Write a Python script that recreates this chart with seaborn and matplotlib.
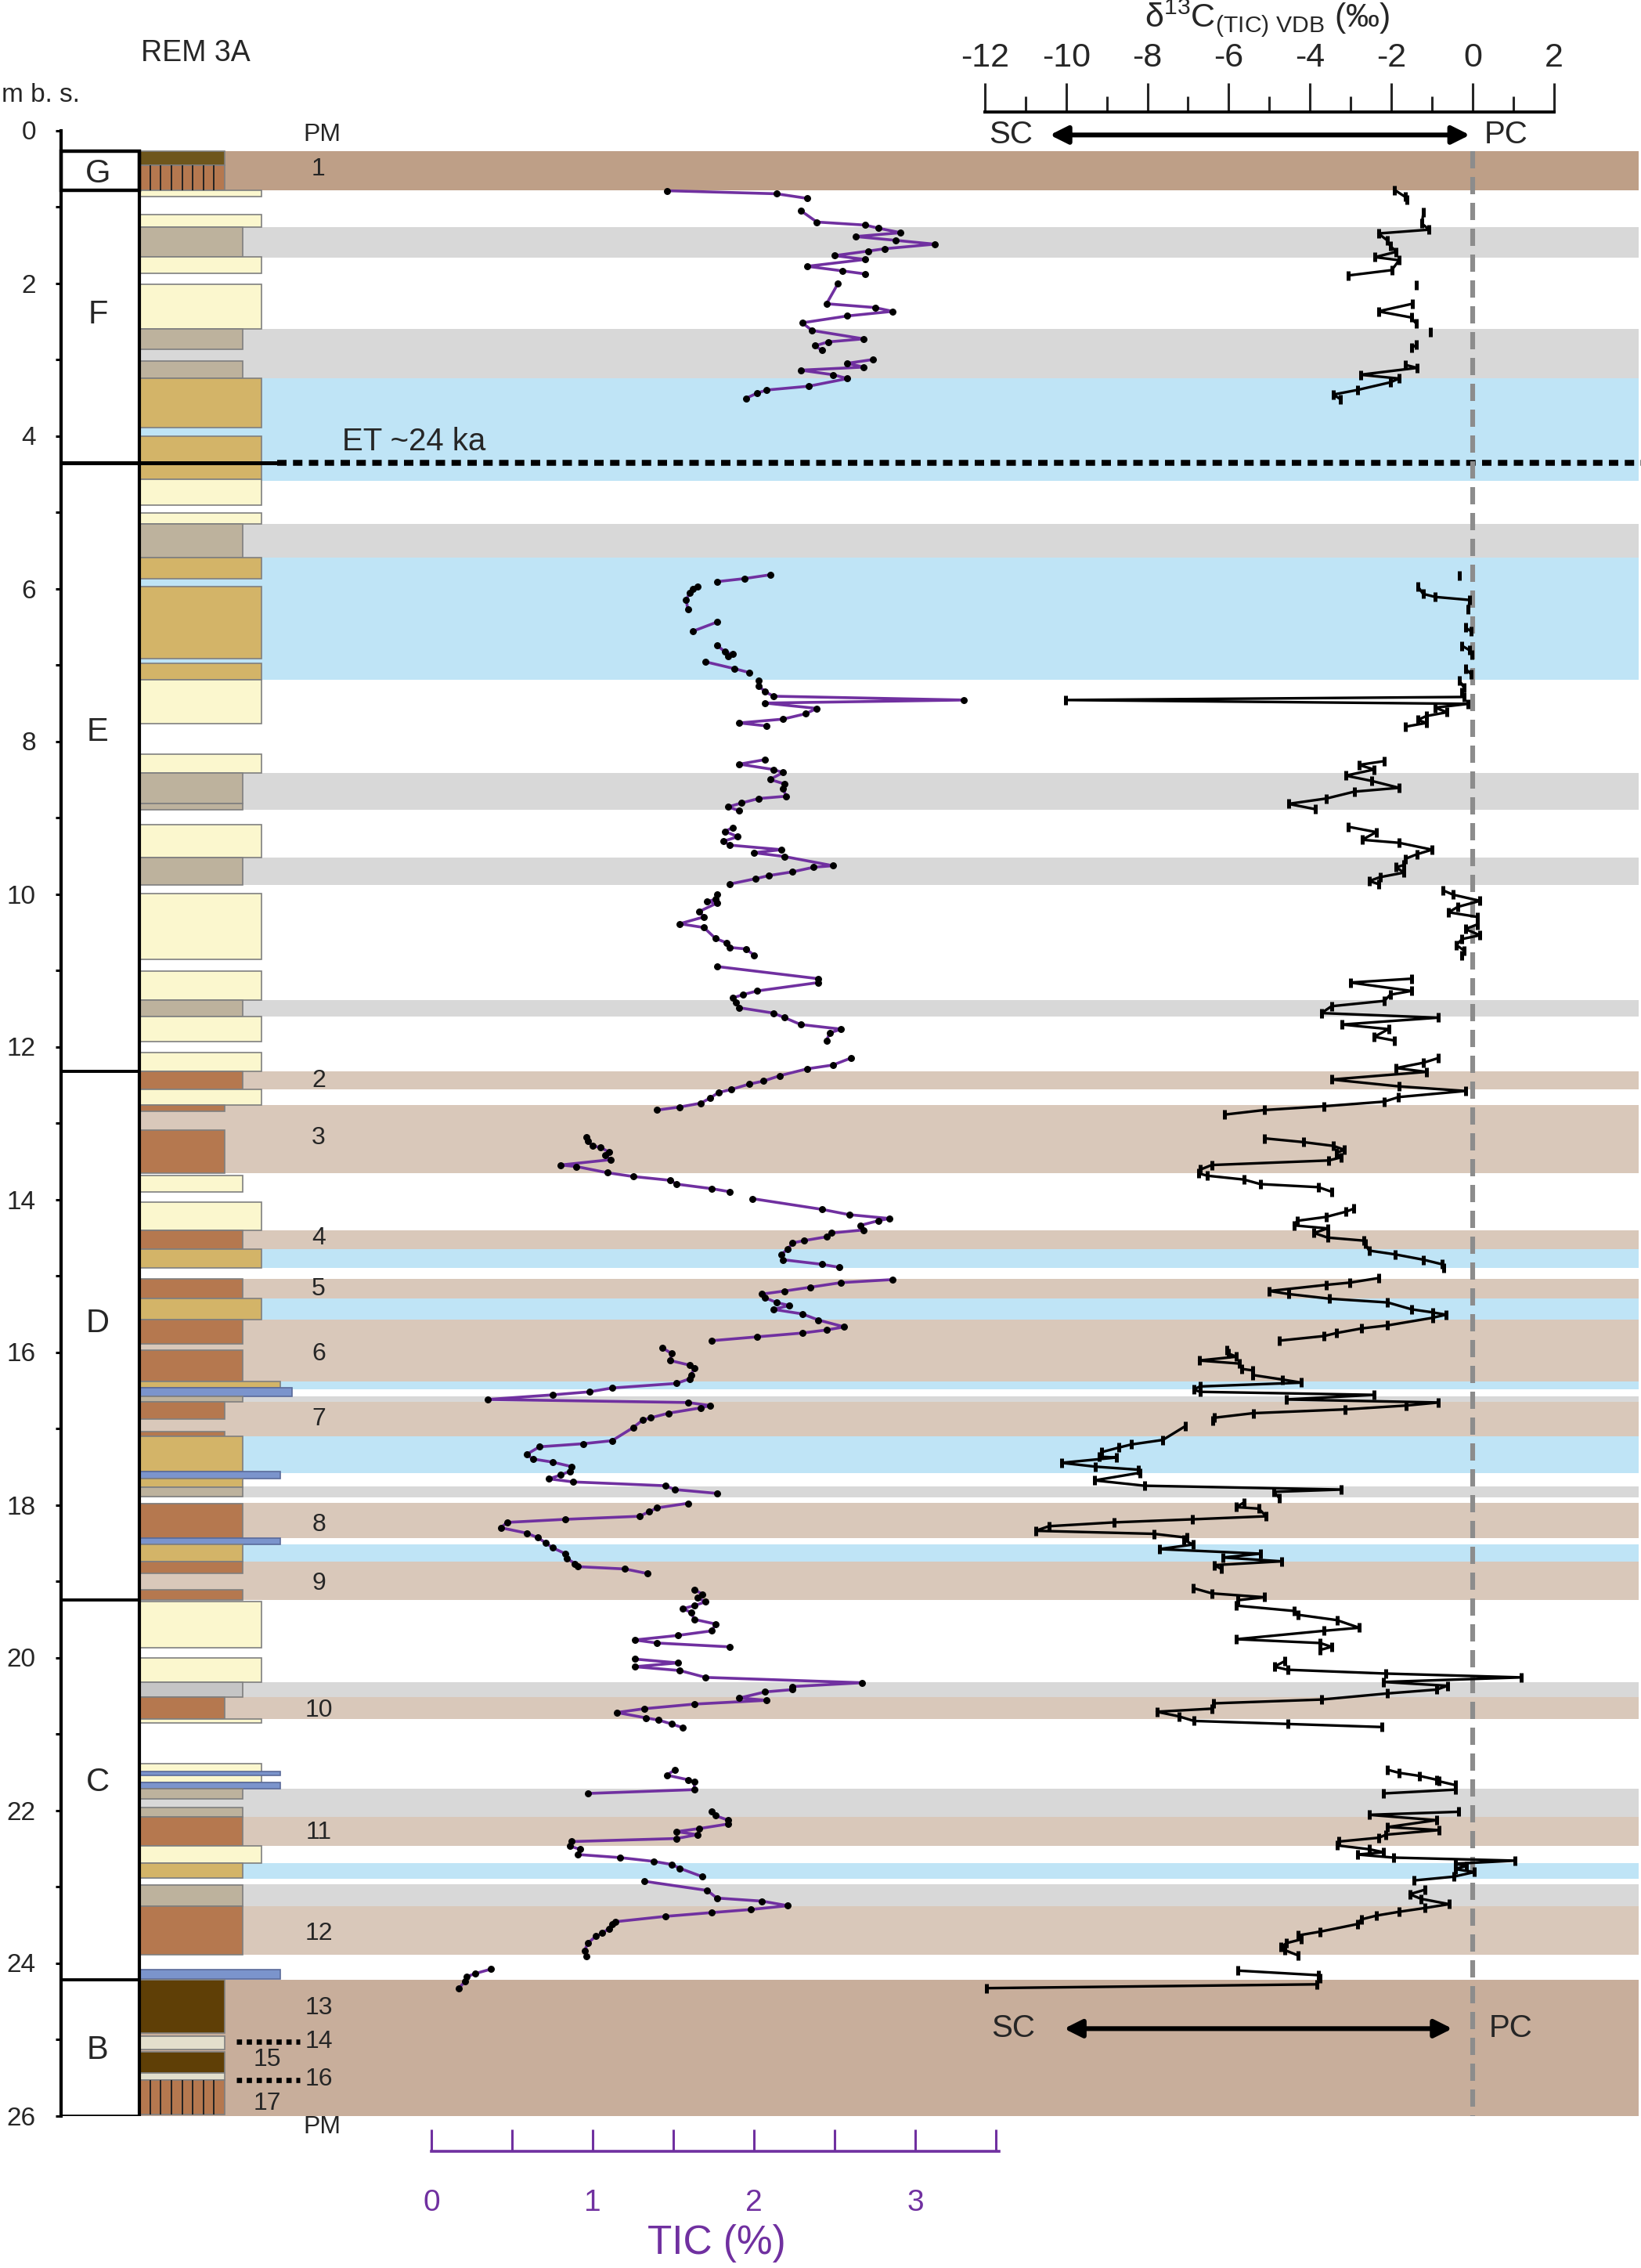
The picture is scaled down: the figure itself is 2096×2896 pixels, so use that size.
import numpy as np
import pandas as pd
import matplotlib
matplotlib.use('Agg')
import matplotlib.pyplot as plt
from matplotlib.patches import Rectangle
import seaborn as sns

# ---------------- data ----------------
# TIC (%) profile, one inner list per connected run of samples
tic_depth = [
    [0.79, 0.83, 0.89],
    [1.05, 1.20, 1.24, 1.28, 1.34, 1.39, 1.44, 1.49, 1.55, 1.58, 1.64, 1.69, 1.78, 1.84, 1.88],
    [2.01, 2.27, 2.32, 2.37, 2.43, 2.52, 2.62, 2.73, 2.77, 2.82, 2.88],
    [3.00, 3.05, 3.10, 3.14, 3.20, 3.25, 3.35, 3.40, 3.44, 3.51],
    [5.82, 5.87, 5.91],
    [5.97, 6.01, 6.06, 6.15, 6.27],
    [6.44, 6.56],
    [6.74, 6.83, 6.86, 6.89],
    [6.96, 7.05, 7.10],
    [7.20, 7.28, 7.35, 7.41, 7.46, 7.50, 7.57, 7.64, 7.71, 7.76, 7.80],
    [8.24, 8.30, 8.37, 8.41, 8.50, 8.56, 8.62, 8.72, 8.75, 8.81, 8.86, 8.91],
    [9.13, 9.18, 9.25, 9.31, 9.36, 9.42, 9.46, 9.51, 9.63, 9.65, 9.71, 9.76, 9.80, 9.87],
    [10.01, 10.07, 10.10, 10.12, 10.23, 10.30, 10.39, 10.44, 10.58, 10.64, 10.70, 10.72, 10.80],
    [10.95, 11.11, 11.16, 11.27, 11.32, 11.36, 11.42, 11.49, 11.56, 11.62, 11.71, 11.77, 11.82, 11.92],
    [12.15, 12.24, 12.29, 12.38, 12.45, 12.49, 12.56, 12.60, 12.67, 12.74, 12.79, 12.83],
    [13.18, 13.24, 13.30, 13.32, 13.38, 13.42, 13.48, 13.55, 13.57, 13.65, 13.70, 13.75, 13.80, 13.86, 13.90],
    [13.99, 14.13, 14.20, 14.25, 14.28, 14.34, 14.40, 14.44, 14.49, 14.54, 14.57, 14.65, 14.72, 14.79, 14.85, 14.89],
    [15.05, 15.09, 15.15, 15.20, 15.24, 15.29, 15.35, 15.39, 15.44, 15.50, 15.58, 15.67, 15.71, 15.75, 15.80, 15.85],
    [15.94, 16.02, 16.11, 16.17, 16.21, 16.30, 16.35, 16.41, 16.47, 16.52, 16.56, 16.62, 16.66, 16.70, 16.73,
     16.80, 16.86, 16.89, 16.99, 17.16, 17.20, 17.24, 17.34, 17.40, 17.44, 17.50, 17.56, 17.61, 17.66, 17.70,
     17.75, 17.80, 17.85],
    [17.98, 18.04, 18.09, 18.15, 18.19, 18.23, 18.30, 18.37, 18.43, 18.50, 18.56, 18.64, 18.70, 18.77, 18.81, 18.84, 18.90],
    [19.11, 19.17, 19.22, 19.27, 19.32, 19.36, 19.41, 19.50, 19.56, 19.65, 19.71, 19.77, 19.81, 19.86],
    [20.02, 20.07, 20.12, 20.17, 20.26, 20.33, 20.38, 20.42, 20.45, 20.53, 20.56, 20.61, 20.67, 20.72, 20.79, 20.82, 20.87, 20.92],
    [21.47, 21.54, 21.60, 21.63, 21.73, 21.78],
    [22.02, 22.07, 22.13, 22.18, 22.24, 22.28, 22.32, 22.37, 22.41, 22.47, 22.51, 22.58, 22.62, 22.67, 22.71, 22.76, 22.87],
    [22.93, 23.05, 23.15, 23.19, 23.25, 23.30, 23.34, 23.39, 23.46, 23.49, 23.55, 23.61, 23.65, 23.74, 23.84, 23.91],
    [24.08, 24.14, 24.18, 24.24, 24.33],
]
tic_value = [
    [1.46, 2.14, 2.33],
    [2.29, 2.39, 2.69, 2.77, 2.91, 2.63, 2.88, 3.12, 2.81, 2.71, 2.50, 2.69, 2.33, 2.55, 2.69],
    [2.52, 2.45, 2.75, 2.86, 2.58, 2.30, 2.36, 2.68, 2.46, 2.38, 2.42],
    [2.74, 2.58, 2.68, 2.29, 2.49, 2.58, 2.34, 2.08, 2.02, 1.95],
    [2.10, 1.94, 1.77],
    [1.65, 1.62, 1.60, 1.58, 1.59],
    [1.77, 1.62],
    [1.77, 1.82, 1.87, 1.84],
    [1.70, 1.88, 1.97],
    [2.03, 2.03, 2.07, 2.12, 3.30, 2.07, 2.39, 2.32, 2.18, 1.91, 2.08],
    [2.07, 1.91, 2.12, 2.18, 2.10, 2.19, 2.18, 2.20, 2.03, 1.92, 1.84, 1.91],
    [1.87, 1.82, 1.90, 1.81, 1.85, 2.17, 2.00, 2.19, 2.49, 2.37, 2.24, 2.09, 2.01, 1.85],
    [1.77, 1.76, 1.71, 1.77, 1.66, 1.69, 1.54, 1.69, 1.76, 1.83, 1.85, 1.95, 2.00],
    [1.77, 2.40, 2.40, 2.02, 1.93, 1.87, 1.89, 1.91, 2.12, 2.19, 2.29, 2.54, 2.47, 2.45],
    [2.60, 2.49, 2.33, 2.16, 2.06, 1.97, 1.86, 1.78, 1.73, 1.67, 1.54, 1.40],
    [0.96, 0.97, 1.00, 1.05, 1.10, 1.08, 1.11, 0.80, 0.90, 1.09, 1.25, 1.48, 1.52, 1.74, 1.85],
    [1.99, 2.42, 2.59, 2.84, 2.77, 2.66, 2.68, 2.48, 2.45, 2.31, 2.24, 2.21, 2.17, 2.18, 2.42, 2.53],
    [2.86, 2.54, 2.35, 2.19, 2.05, 2.07, 2.14, 2.22, 2.12, 2.30, 2.40, 2.56, 2.45, 2.30, 2.02, 1.74],
    [1.43, 1.49, 1.48, 1.60, 1.63, 1.61, 1.60, 1.52, 1.12, 0.98, 0.75, 0.35, 1.59, 1.73, 1.67,
     1.47, 1.36, 1.31, 1.25, 1.12, 0.94, 0.67, 0.59, 0.63, 0.75, 0.87, 0.86, 0.80, 0.73, 0.88,
     1.45, 1.51, 1.77],
    [1.59, 1.40, 1.35, 1.29, 0.83, 0.47, 0.43, 0.59, 0.66, 0.71, 0.75, 0.83, 0.84, 0.89, 0.91, 1.20, 1.34],
    [1.63, 1.68, 1.65, 1.70, 1.63, 1.56, 1.61, 1.63, 1.76, 1.74, 1.53, 1.26, 1.40, 1.85],
    [1.26, 1.53, 1.26, 1.54, 1.70, 2.67, 2.24, 2.24, 2.07, 1.91, 2.08, 1.63, 1.32, 1.15, 1.33, 1.41, 1.49, 1.56],
    [1.51, 1.46, 1.59, 1.63, 1.63, 0.97],
    [1.74, 1.76, 1.84, 1.84, 1.66, 1.52, 1.65, 1.52, 0.87, 0.86, 0.92, 0.91, 1.17, 1.38, 1.49, 1.54, 1.68],
    [1.32, 1.71, 1.77, 2.05, 2.21, 1.98, 1.74, 1.45, 1.14, 1.12, 1.10, 1.06, 1.02, 0.97, 0.95, 0.96],
    [0.37, 0.27, 0.22, 0.21, 0.17],
]

# d13C (TIC) profile, permil VDB
d13c_depth = [
    [0.78, 0.87, 0.91],
    [1.07, 1.22, 1.30, 1.35, 1.44, 1.51, 1.59, 1.66, 1.70, 1.83, 1.90],
    [2.03],
    [2.27, 2.37, 2.45, 2.53],
    [2.64],
    [2.81, 2.85],
    [3.07, 3.11, 3.20, 3.25, 3.30, 3.40, 3.46, 3.52],
    [5.83],
    [5.97, 6.07, 6.11, 6.15, 6.27],
    [6.51, 6.56],
    [6.75, 6.81, 6.87],
    [7.05, 7.12],
    [7.20, 7.30, 7.36, 7.42, 7.46, 7.51, 7.56, 7.62, 7.67, 7.72, 7.76, 7.81],
    [8.26, 8.31, 8.37, 8.45, 8.52, 8.61, 8.66, 8.75, 8.82, 8.89],
    [9.12, 9.19, 9.29, 9.33, 9.42, 9.48, 9.54, 9.62, 9.65, 9.72, 9.78, 9.83, 9.87],
    [9.95, 10.01, 10.09, 10.17, 10.24, 10.30, 10.40, 10.46, 10.54, 10.59, 10.67, 10.74, 10.81],
    [11.11, 11.16, 11.27, 11.32, 11.40, 11.47, 11.56, 11.62, 11.71, 11.77, 11.87, 11.92],
    [12.15, 12.21, 12.28, 12.33, 12.43, 12.52, 12.58, 12.66, 12.72, 12.78, 12.83, 12.89],
    [13.20, 13.25, 13.30, 13.35, 13.39, 13.45, 13.49, 13.55, 13.61, 13.66, 13.69, 13.74, 13.80, 13.84, 13.90],
    [14.12, 14.16, 14.23, 14.28, 14.34, 14.38, 14.44, 14.50, 14.54, 14.58, 14.67, 14.72, 14.79, 14.85, 14.90],
    [15.03, 15.09, 15.12, 15.20, 15.24, 15.30, 15.35, 15.44, 15.48, 15.51, 15.55, 15.65, 15.69, 15.75, 15.79, 15.85],
    [15.97, 16.02, 16.06, 16.11, 16.15, 16.22, 16.24, 16.30, 16.36, 16.40, 16.45, 16.49, 16.52, 16.56, 16.62,
     16.66, 16.70, 16.75, 16.80, 16.86, 16.90],
    [16.97, 17.15, 17.21, 17.25, 17.31, 17.37, 17.38, 17.45, 17.50, 17.54, 17.58, 17.68, 17.75, 17.80, 17.83, 17.91],
    [17.97, 18.03, 18.05, 18.15, 18.19, 18.23, 18.28, 18.34, 18.38, 18.43, 18.46, 18.52, 18.58, 18.64, 18.69,
     18.74, 18.79, 18.84],
    [19.09, 19.16, 19.21, 19.25, 19.32, 19.39, 19.44, 19.51, 19.61, 19.65, 19.76, 19.81, 19.86, 19.90],
    [20.05, 20.12, 20.16, 20.21, 20.26, 20.32, 20.37, 20.42, 20.47, 20.55, 20.60, 20.67, 20.71, 20.77, 20.83,
     20.87, 20.91],
    [21.47, 21.51, 21.55, 21.60, 21.62, 21.67, 21.73, 21.78],
    [22.02, 22.06, 22.13, 22.22, 22.26, 22.32, 22.36, 22.41, 22.46, 22.51, 22.55, 22.58, 22.62, 22.66, 22.70,
     22.73, 22.77, 22.81, 22.87, 22.92],
    [23.04, 23.10, 23.16, 23.23, 23.28, 23.33, 23.38, 23.43, 23.49, 23.59, 23.64, 23.69, 23.74, 23.79, 23.83, 23.90],
    [24.10, 24.16, 24.20, 24.28, 24.33],
]
d13c_value = [
    [-1.92, -1.66, -1.61],
    [-1.21, -1.25, -1.07, -2.32, -2.10, -2.03, -1.88, -2.40, -1.81, -1.99, -3.06],
    [-1.39],
    [-1.48, -2.32, -1.51, -1.39],
    [-1.04],
    [-1.39, -1.51],
    [-1.66, -1.37, -2.76, -1.81, -2.03, -2.84, -3.43, -3.25],
    [-0.33],
    [-1.35, -1.22, -0.92, -0.07, -0.11],
    [-0.18, -0.04],
    [-0.26, -0.07, -0.02],
    [-0.18, -0.04],
    [-0.33, -0.21, -0.26, -0.21, -10.01, -0.11, -0.92, -0.63, -1.14, -1.35, -1.14, -1.66],
    [-2.17, -2.80, -2.42, -3.12, -2.48, -1.81, -2.91, -3.60, -4.53, -3.87],
    [-3.06, -2.37, -2.72, -1.81, -1.00, -1.37, -1.66, -1.69, -1.88, -1.69, -2.28, -2.54, -2.32],
    [-0.74, -0.48, 0.18, -0.37, -0.59, 0.11, 0.11, -0.18, 0.18, -0.26, -0.40, -0.21, -0.26],
    [-1.51, -3.01, -1.51, -2.03, -2.17, -3.47, -3.72, -0.85, -3.21, -2.07, -2.42, -1.92],
    [-0.85, -1.21, -1.88, -1.14, -3.47, -1.81, -0.18, -1.82, -2.18, -3.66, -5.13, -6.11],
    [-5.13, -4.16, -3.42, -3.16, -3.35, -3.24, -3.54, -6.42, -6.70, -6.74, -6.52, -5.63, -5.22, -3.79, -3.47],
    [-2.92, -3.11, -3.61, -4.31, -4.40, -3.57, -3.90, -3.57, -2.68, -2.64, -2.55, -1.91, -1.21, -0.75, -0.71],
    [-2.31, -3.02, -3.61, -5.00, -4.52, -3.53, -2.09, -1.50, -0.98, -0.66, -0.98, -2.09, -2.73, -3.35, -3.66, -4.76],
    [-6.05, -6.00, -5.81, -6.73, -5.74, -5.68, -5.41, -5.41, -4.67, -4.21, -6.71, -6.86, -6.71, -2.42, -4.58,
     -0.84, -1.64, -3.13, -5.40, -6.36, -6.40],
    [-7.07, -7.62, -8.40, -8.70, -9.13, -9.18, -8.76, -10.11, -9.28, -8.22, -8.18, -9.30, -8.07, -3.23, -4.89, -4.76],
    [-5.63, -5.81, -5.26, -5.08, -6.90, -8.82, -10.42, -10.75, -7.84, -7.03, -7.10, -6.88, -7.71, -5.22, -6.14,
     -4.70, -6.36, -6.18],
    [-6.88, -6.41, -5.13, -5.78, -5.81, -4.39, -4.30, -3.34, -2.79, -3.66, -5.81, -3.75, -3.47, -3.75],
    [-4.63, -4.88, -4.55, -2.13, 1.19, -2.19, -0.62, -0.89, -2.09, -3.71, -6.37, -6.42, -7.77, -7.23, -6.86,
     -4.55, -2.24],
    [-2.09, -1.81, -1.31, -0.89, -0.83, -0.43, -0.43, -2.19],
    [-0.34, -2.55, -0.89, -2.09, -0.83, -2.13, -2.31, -3.29, -3.34, -2.55, -2.19, -2.83, -1.95, 1.04, -0.43,
     -0.16, -0.43, 0.04, -0.47, -1.45],
    [-1.17, -1.55, -1.27, -0.58, -1.17, -1.81, -2.37, -2.74, -2.83, -3.75, -4.30, -4.21, -4.58, -4.71, -4.63, -4.30],
    [-5.78, -3.79, -3.75, -3.84, -11.95],
]

# stratigraphic units
unit_names = ['G', 'F', 'E', 'D', 'C', 'B']
unit_bounds = [0.27, 0.78, 4.35, 12.32, 19.25, 24.22, 26.0]
unit_label_depth = [0.57, 2.42, 7.88, 15.63, 21.64, 25.14]

# background bands across the profiles
band_top = [0.27, 1.27, 2.60, 3.25, 5.15, 5.59, 8.42, 9.52, 11.39, 12.32, 12.76, 14.40, 14.65, 15.04, 15.30,
            15.57, 16.38, 16.58, 16.65, 17.10, 17.76, 17.97, 18.52, 18.74, 20.32, 20.52, 21.72, 22.09, 22.69,
            22.97, 23.26, 24.22]
band_bot = [0.78, 1.67, 3.25, 4.59, 5.59, 7.19, 8.90, 9.88, 11.60, 12.56, 13.66, 14.65, 14.90, 15.30, 15.57,
            16.38, 16.49, 16.65, 17.10, 17.58, 17.90, 18.44, 18.74, 19.25, 20.52, 20.80, 22.09, 22.47, 22.90,
            23.26, 23.89, 26.0]
band_kind = ['pm', 'grey', 'grey', 'blue', 'grey', 'blue', 'grey', 'grey', 'grey', 'soil', 'soil', 'soil', 'blue',
             'soil', 'blue', 'soil', 'blue', 'grey', 'soil', 'blue', 'grey', 'soil', 'blue', 'soil', 'grey', 'soil',
             'grey', 'soil', 'blue', 'grey', 'soil', 'pm2']

# lithological log: top, bottom, lithology, grain-size class
lith_top = [0.27, 0.46, 0.78, 1.10, 1.27, 1.66, 2.02, 2.60, 3.02, 3.25, 4.00, 4.57, 5.01, 5.15, 5.59, 5.97,
            6.98, 7.19, 8.17, 8.42, 8.82, 9.09, 9.52, 9.99, 11.01, 11.39, 11.60, 12.08, 12.32, 12.56, 12.76,
            13.09, 13.69, 14.04, 14.40, 14.65, 15.04, 15.30, 15.57, 15.97, 16.38, 16.47, 16.58, 16.65, 17.04,
            17.10, 17.56, 17.66, 17.77, 17.98, 18.44, 18.52, 18.74, 19.11, 19.27, 20.01, 20.32, 20.52, 20.80,
            21.39, 21.49, 21.64, 21.72, 21.96, 22.09, 22.47, 22.69, 22.98, 23.26, 24.09, 24.22, 24.96, 25.16,
            25.44, 25.53]
lith_bot = [0.46, 0.78, 0.87, 1.27, 1.66, 1.87, 2.60, 2.87, 3.25, 3.89, 4.57, 4.91, 5.15, 5.59, 5.87, 6.92,
            7.19, 7.77, 8.42, 8.82, 8.90, 9.52, 9.88, 10.86, 11.39, 11.60, 11.93, 12.32, 12.56, 12.76, 12.85,
            13.66, 13.90, 14.40, 14.65, 14.90, 15.30, 15.57, 15.89, 16.38, 16.47, 16.58, 16.65, 16.88, 17.10,
            17.56, 17.66, 17.77, 17.89, 18.44, 18.52, 18.74, 18.90, 19.25, 19.87, 20.32, 20.52, 20.80, 20.86,
            21.64, 21.54, 21.72, 21.85, 22.09, 22.47, 22.69, 22.89, 23.26, 23.89, 24.21, 24.92, 25.13, 25.44,
            25.53, 25.98]
lith_kind = ['dark2', 'pm', 'sand', 'sand', 'silt', 'sand', 'sand', 'silt', 'silt', 'tan', 'tan', 'sand',
             'sand', 'silt', 'tan', 'tan', 'tan', 'sand', 'sand', 'silt', 'silt', 'sand', 'silt', 'sand',
             'sand', 'silt', 'sand', 'sand', 'brown', 'sand', 'brown', 'brown', 'sand', 'sand', 'brown', 'tan',
             'brown', 'tan', 'brown', 'brown', 'tan', 'tephra', 'silt', 'brown', 'brown', 'tan', 'tephra',
             'tan', 'silt', 'brown', 'tephra', 'tan', 'brown', 'brown', 'sand', 'sand', 'grey', 'brown', 'sand',
             'sand', 'tephra', 'tephra', 'silt', 'silt', 'brown', 'sand', 'tan', 'silt', 'brown', 'tephra',
             'dark', 'pale', 'dark', 'pale', 'pm']
lith_grain = [1, 1, 3, 3, 2, 3, 3, 2, 2, 3, 3, 3, 3, 2, 3, 3, 3, 3, 3, 2, 2, 3, 2, 3, 3, 2, 3, 3, 2, 3, 1,
              1, 2, 3, 2, 3, 2, 3, 2, 2, 4, 5, 2, 1, 1, 2, 4, 2, 2, 2, 4, 2, 2, 2, 3, 3, 2, 1, 3,
              3, 4, 4, 2, 2, 2, 3, 2, 2, 2, 4, 1, 1, 1, 1, 1]

# numbered palaeosols / labels next to the log
soil_labels = ['PM', '1', '2', '3', '4', '5', '6', '7', '8', '9', '10', '11', '12', '13', '14', '15', '16', '17', 'PM']
soil_label_depth = [0.06, 0.51, 12.45, 13.19, 14.51, 15.17, 16.03, 16.88, 18.26, 19.03, 20.69, 22.29, 23.62,
                    24.59, 25.03, 25.27, 25.52, 25.84, 26.15]
soil_label_x = [411, 407, 407, 407, 407, 407, 407, 407, 407, 407, 407, 407, 407, 407, 407, 341, 407, 341, 411]

tic_ticks = [0, 0.5, 1, 1.5, 2, 2.5, 3, 3.5]
tic_ticklabels = ['0', '', '1', '', '2', '', '3', '']
d13c_ticks = [-12, -10, -8, -6, -4, -2, 0, 2]
et_depth = 4.35
dotted_depths = [25.03, 25.53]

# ---------------- styling ----------------
lith_color = {'sand': '#FBF7CE', 'silt': '#BDB29D', 'tan': '#D3B468', 'brown': '#B5784F', 'dark': '#5F3F06',
              'dark2': '#6E561C', 'tephra': '#7B94CC', 'grey': '#C5C5C5', 'pale': '#E3DFCC', 'pm': '#B5784F'}
band_color = {'pm': '#BE9F87', 'pm2': '#C8AE9B', 'grey': '#D8D8D8', 'blue': '#BFE4F6', 'soil': '#D9C8BA'}
grain_right = {1: 287, 2: 310, 3: 334, 4: 358, 5: 373}
PURPLE = '#7030A0'

sns.set_theme(style='ticks')
plt.rcParams['font.family'] = ['Liberation Sans', 'DejaVu Sans']
plt.rcParams['mathtext.fontset'] = 'custom'
plt.rcParams['mathtext.rm'] = 'Liberation Sans'
plt.rcParams['mathtext.it'] = 'Liberation Sans:italic'
plt.rcParams['axes.unicode_minus'] = False

W, H, DPI = 2096, 2896, 200
D0, PPM = 166.5, 97.5           # pixel row of 0 m, pixels per metre
X_LOG, X_UNIT = 178, 78          # left of log column, left of unit boxes
X_END = 2093

fig = plt.figure(figsize=(W / DPI, H / DPI), dpi=DPI)
fig.patch.set_facecolor('white')
rect = [0, 1 - (D0 + 26 * PPM) / H, 1, 26 * PPM / H]

ax = fig.add_axes(rect)
ax.set_xlim(0, W)
ax.set_ylim(26, 0)
for s in ['top', 'right', 'bottom']:
    ax.spines[s].set_visible(False)
ax.spines['left'].set_position(('data', X_UNIT))
ax.spines['left'].set_bounds(0, 26)
ax.spines['left'].set_linewidth(1.5)
ax.spines['left'].set_color('black')
ax.set_xticks([])
ax.set_yticks(range(0, 27, 2))
ax.set_yticks(range(1, 26, 2), minor=True)
ax.tick_params(axis='y', which='both', left=True, direction='out', length=2.6, width=1.1,
               color='black', labelsize=12, pad=9)
ax.tick_params(axis='y', which='minor', labelleft=False)

# bands
for t, b, k in zip(band_top, band_bot, band_kind):
    ax.add_patch(Rectangle((X_LOG, t), X_END - X_LOG, b - t, facecolor=band_color[k], lw=0, zorder=1))

# lithology
for t, b, k, g in zip(lith_top, lith_bot, lith_kind, lith_grain):
    ec = '#5a6a9a' if k == 'tephra' else '#7f7f7f'
    ax.add_patch(Rectangle((X_LOG, t), grain_right[g] - X_LOG, b - t, facecolor=lith_color[k],
                           edgecolor=ec, lw=0.6, zorder=2))
    if k == 'pm':
        xs = np.linspace(X_LOG, grain_right[g], 9)[1:-1]
        ax.vlines(xs, t, b, color='#222222', lw=0.7, zorder=3)

# unit boxes
for i, name in enumerate(unit_names):
    t, b = unit_bounds[i], unit_bounds[i + 1]
    ax.add_patch(Rectangle((X_UNIT, t), X_LOG - X_UNIT, b - t, fill=False, edgecolor='black',
                           lw=1.6 if name == 'G' else 1.3, zorder=4))
    ax.text(125, unit_label_depth[i], name, ha='center', va='center', fontsize=15, zorder=5)
ax.plot([X_LOG, X_LOG], [unit_bounds[0], 26], color='black', lw=1.5, zorder=4)

# ET marker line
ax.plot([X_UNIT, 354], [et_depth, et_depth], color='black', lw=1.8, zorder=4, solid_capstyle='butt')
ax.plot([354, W], [et_depth, et_depth], color='black', lw=2.7, ls=(0, (1.6, 1.1)), zorder=4)
ax.text(437, et_depth - 0.27, 'ET ~24 ka', ha='left', va='center', fontsize=14.5, zorder=5)
for dd in dotted_depths:
    ax.plot([302, 383], [dd, dd], color='black', lw=2.4, ls=(0, (1, 0.9)), zorder=4)

for lab, dd, xx in zip(soil_labels, soil_label_depth, soil_label_x):
    ax.text(xx, dd, lab, ha='center', va='center', fontsize=11.5, zorder=5)

ax.text(250, -1.01, 'REM 3A', ha='center', va='center', fontsize=13.5)
ax.text(52, -0.46, 'm b. s.', ha='center', va='center', fontsize=12)


def to_frame(depths, values):
    rows = []
    for i, (ds, vs) in enumerate(zip(depths, values)):
        assert len(ds) == len(vs)
        for d, v in zip(ds, vs):
            rows.append((i, d, v))
    return pd.DataFrame(rows, columns=['seg', 'depth', 'value'])


tic_df = to_frame(tic_depth, tic_value)
d13c_df = to_frame(d13c_depth, d13c_value)

# TIC axis
ax_t = fig.add_axes(rect, facecolor='none')
sns.lineplot(data=tic_df, x='value', y='depth', units='seg', estimator=None, sort=False, ax=ax_t,
             color=PURPLE, linewidth=1.3, marker='o', markersize=2.8, markerfacecolor='black',
             markeredgecolor='black', markeredgewidth=0.4, legend=False, zorder=6)
ax_t.set_xlim(-551 / 206, (W - 551) / 206)
ax_t.set_ylim(26, 0)
ax_t.set_xlabel('')
ax_t.set_ylabel('')
for s in ['top', 'right', 'left']:
    ax_t.spines[s].set_visible(False)
ax_t.spines['bottom'].set_position(('data', 26.47))
ax_t.spines['bottom'].set_bounds(0, 3.52)
ax_t.spines['bottom'].set_color(PURPLE)
ax_t.spines['bottom'].set_linewidth(1.3)
ax_t.set_yticks([])
ax_t.set_xticks(tic_ticks)
ax_t.set_xticklabels(tic_ticklabels)
ax_t.tick_params(axis='x', bottom=True, direction='in', length=10, width=1.1, color=PURPLE,
                 labelcolor=PURPLE, labelsize=14, pad=17)
ax_t.text(1.77, 27.67, 'TIC (%)', color=PURPLE, ha='center', va='center', fontsize=18.5)

# d13C axis
ax_d = fig.add_axes(rect, facecolor='none')
sns.lineplot(data=d13c_df, x='value', y='depth', units='seg', estimator=None, sort=False, ax=ax_d,
             color='black', linewidth=1.2, marker='|', markersize=4.0, markeredgecolor='black',
             markeredgewidth=1.8, legend=False, zorder=6)
ax_d.set_xlim(-1881 / 51.93, (W - 1881) / 51.93)
ax_d.set_ylim(26, 0)
ax_d.set_xlabel('')
ax_d.set_ylabel('')
for s in ['bottom', 'right', 'left']:
    ax_d.spines[s].set_visible(False)
ax_d.spines['top'].set_position(('data', -0.246))
ax_d.spines['top'].set_bounds(-12, 2)
ax_d.spines['top'].set_color('black')
ax_d.spines['top'].set_linewidth(1.4)
ax_d.set_yticks([])
ax_d.xaxis.set_ticks_position('top')
ax_d.set_xticks(d13c_ticks)
ax_d.set_xticks(np.arange(-11, 2, 2), minor=True)
ax_d.tick_params(axis='x', which='major', top=True, bottom=False, direction='out', length=13.5,
                 width=1.1, labelsize=15.5, pad=4, labeltop=True, labelbottom=False)
ax_d.tick_params(axis='x', which='minor', top=True, bottom=False, direction='out', length=7.2, width=1.1)
ax_d.text(-5.05, -1.48, r'δ$^{13}$C$_{\mathrm{(TIC)\ VDB}}$ (‰)', ha='center', va='center', fontsize=15.5)

ax_d.plot([0, 0], [0.27, 26], color='#8C8C8C', lw=2.2, ls=(0, (3.6, 1.8)), zorder=5)
for dep, x0, x1, xs, xp in [(0.06, -10.4, -0.07, -11.36, 0.82), (24.86, -10.05, -0.5, -11.3, 0.93)]:
    ax_d.annotate('', xy=(x0, dep), xytext=(x1, dep),
                  arrowprops=dict(arrowstyle='<|-|>', lw=2.2, color='black', mutation_scale=17,
                                  shrinkA=0, shrinkB=0))
    ax_d.text(xs, dep, 'SC', ha='center', va='center', fontsize=14.5)
    ax_d.text(xp, dep, 'PC', ha='center', va='center', fontsize=14.5)

fig.savefig('out.png', dpi=DPI, facecolor='white')
